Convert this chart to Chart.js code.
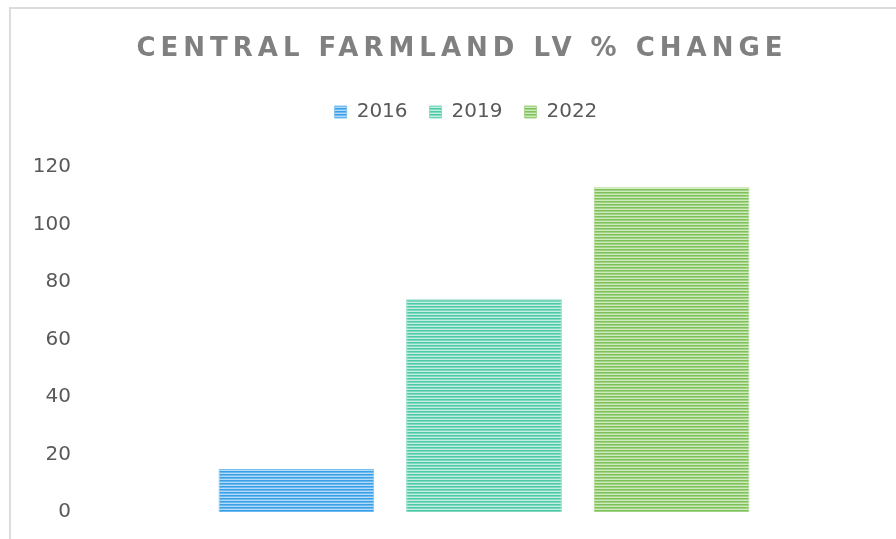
<!DOCTYPE html>
<html>
<head>
<meta charset="utf-8">
<script src="https://cdn.jsdelivr.net/npm/chart.js@4"></script>
<style>
  html, body { margin: 0; padding: 0; background: #ffffff; }
  #wrap { position: relative; width: 896px; height: 539px; overflow: hidden; }
  #frame {
    position: absolute; left: 9px; top: 7px; right: 0; bottom: 0;
    border-left: 2px solid #dcdcdc; border-top: 2px solid #dcdcdc;
    pointer-events: none;
  }
  canvas { position: absolute; left: 0; top: 0; }
</style>
</head>
<body>
<div id="wrap">
  <canvas id="chart" width="896" height="539"></canvas>
  <div id="frame"></div>
</div>
<script>
const chartTitle = "CENTRAL FARMLAND LV % CHANGE";
const categories = ["Central"];
const seriesNames = ["2016", "2019", "2022"];
const values2016 = [15];
const values2019 = [74];
const values2022 = [113];
const yMin = 0;
const yMax = 120;
const yStep = 20;

// horizontal stripe fill, like the Excel pattern fill
function stripes(dark, mid, light) {
  const c = document.createElement("canvas");
  c.width = 4;
  c.height = 3;
  const g = c.getContext("2d");
  g.fillStyle = dark; g.fillRect(0, 0, 4, 1);
  g.fillStyle = mid; g.fillRect(0, 1, 4, 1);
  g.fillStyle = light; g.fillRect(0, 2, 4, 1);
  return g.createPattern(c, "repeat");
}

const fills = [
  stripes("#3a9fe9", "#6cb9f0", "#b3dbf8"),
  stripes("#4cc9a5", "#7fd8bf", "#c4eee1"),
  stripes("#7fc15a", "#a2d285", "#d0eac0")
];
const edges = ["#7cc0f2", "#8adcc4", "#a8d58d"];

const spacedTitle = {
  id: "spacedTitle",
  afterDraw(chart) {
    const ctx = chart.ctx;
    ctx.save();
    ctx.font = 'bold 26px "DejaVu Sans"';
    ctx.fillStyle = "#808080";
    ctx.letterSpacing = "5px";
    ctx.textAlign = "center";
    ctx.textBaseline = "middle";
    ctx.fillText(chartTitle, 462, 49);
    ctx.restore();
  }
};

const datasets = [values2016, values2019, values2022].map((vals, i) => ({
  label: seriesNames[i],
  data: vals,
  backgroundColor: fills[i],
  borderColor: edges[i],
  borderWidth: 1,
  categoryPercentage: 0.683,
  barPercentage: 0.83
}));

new Chart(document.getElementById("chart"), {
  type: "bar",
  data: { labels: categories, datasets: datasets },
  plugins: [spacedTitle],
  options: {
    responsive: false,
    animation: false,
    layout: { padding: { top: 80, left: 31, right: -5, bottom: 27 } },
    plugins: {
      title: { display: false },
      subtitle: { display: true, text: "", weight: 500, font: { size: 10, lineHeight: 1 }, padding: { top: 25, bottom: 0 } },
      legend: {
        position: "top",
        labels: {
          boxWidth: 12,
          boxHeight: 12,
          padding: 22,
          color: "#595959",
          font: { family: "DejaVu Sans", size: 20 }
        }
      },
      tooltip: { enabled: false }
    },
    scales: {
      x: { display: false },
      y: {
        min: yMin,
        max: yMax,
        grid: { display: false, drawTicks: false },
        border: { display: false },
        ticks: {
          stepSize: yStep,
          padding: 1,
          color: "#595959",
          font: { family: "DejaVu Sans", size: 20 }
        },
        afterFit(scale) { scale.width = 41; }
      }
    }
  }
});
</script>
</body>
</html>
